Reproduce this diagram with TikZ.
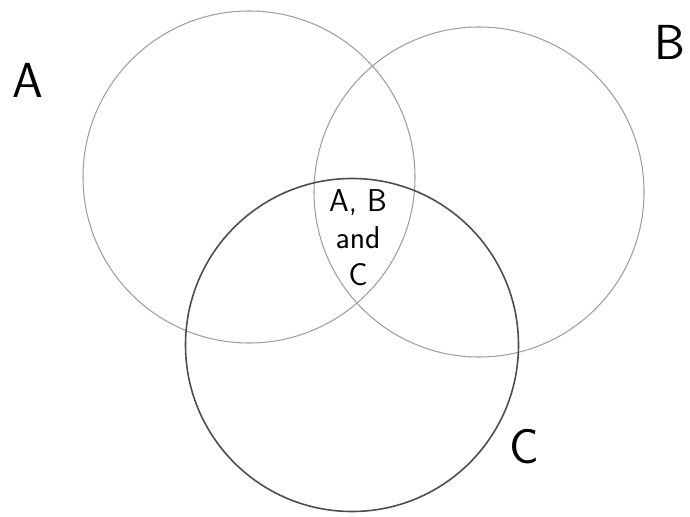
\documentclass[tikz,border=0pt]{standalone}
\usepackage{tikz}
\usetikzlibrary{positioning}
\definecolor{clight}{gray}{0.62}
\definecolor{cdark}{gray}{0.30}

\begin{document}
\begin{tikzpicture}[x=0.02cm, y=-0.02cm,
    setA/.style={draw=clight, line width=0.6pt},
    setB/.style={draw=clight, line width=0.6pt},
    setC/.style={draw=cdark, line width=0.9pt},
    setlabel/.style={font=\fontsize{28}{30}\selectfont\sffamily},
    inner/.style={align=center, font=\fontsize{18}{21}\selectfont\sffamily}
]
\useasboundingbox (0,0) rectangle (690,517);
\draw[setA] (249,177) circle (166);
\draw[setB] (479,192) circle (165);
\draw[setC] (352,345) circle (166.5);
\node[setlabel] (la) at (28,80) {A};
\node[setlabel] (lb) at (670,42) {B};
\node[setlabel] (lc) at (524,447) {C};
\node[inner] (abc) at (358,238) {A, B\\and\\C};
\end{tikzpicture}
\end{document}
